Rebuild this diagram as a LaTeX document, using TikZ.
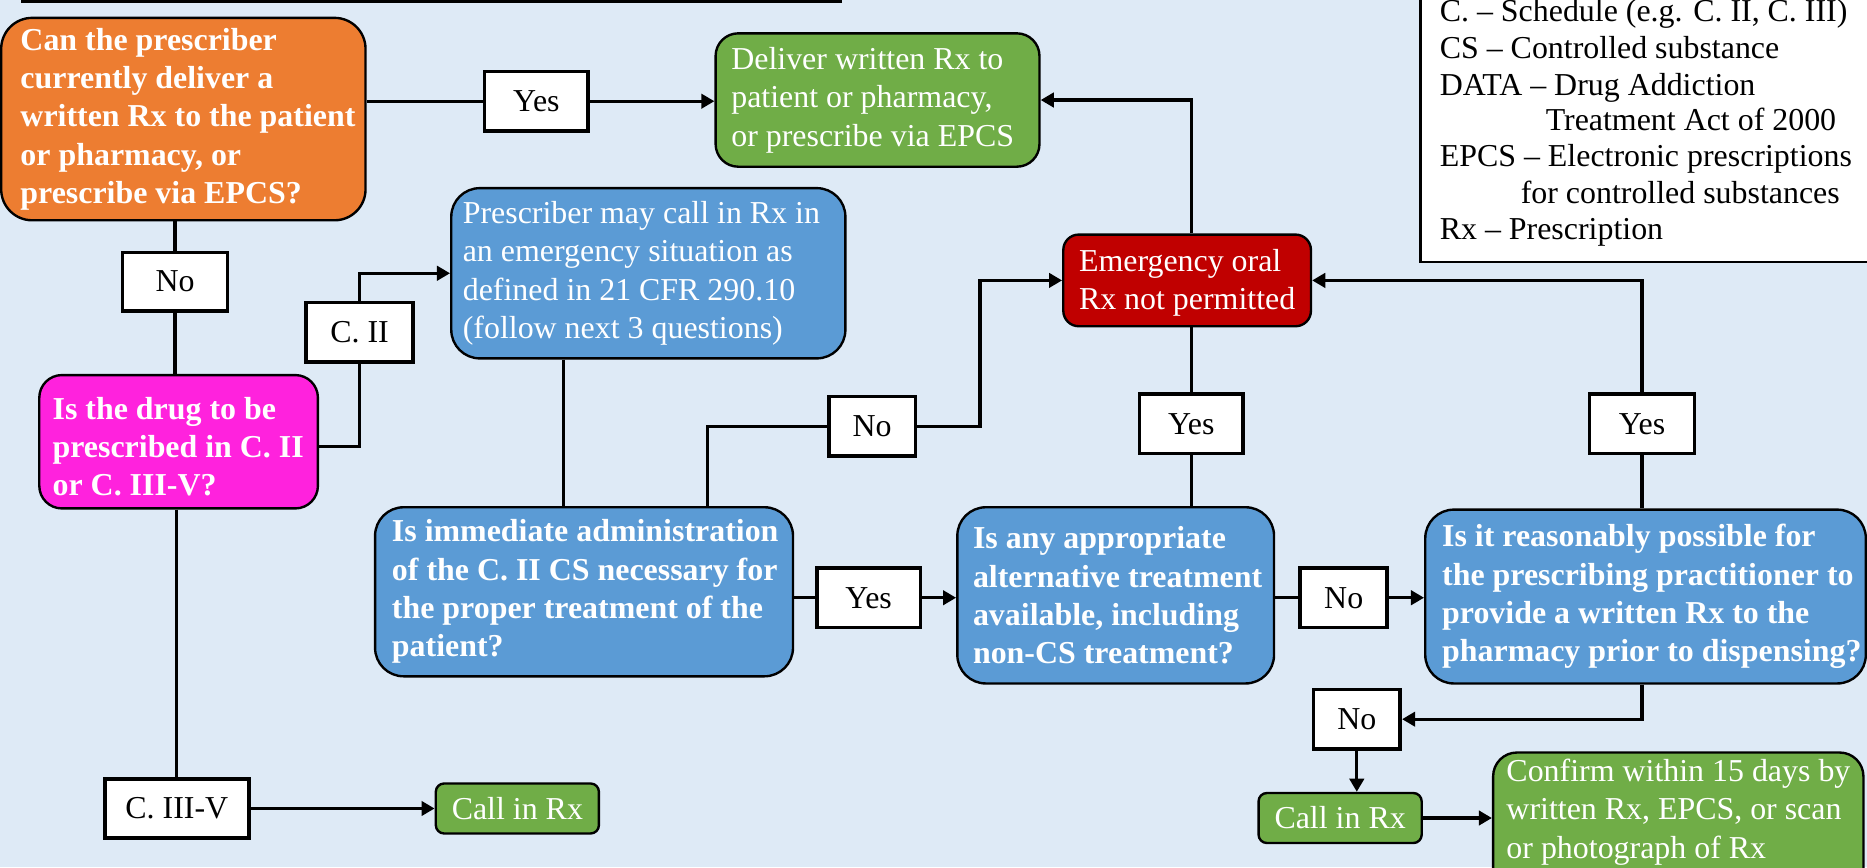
\documentclass[tikz,border=0pt]{standalone}
\usepackage{fontspec}
\setmainfont{Liberation Serif}
\usetikzlibrary{arrows.meta}
\definecolor{bgc}{HTML}{DEEAF6}
\definecolor{orangec}{HTML}{ED7D31}
\definecolor{greenc}{HTML}{70AD47}
\definecolor{bluec}{HTML}{5B9BD5}
\definecolor{redc}{HTML}{C00000}
\definecolor{magc}{HTML}{FF22DD}
\begin{document}
\begin{tikzpicture}[x=1pt,y=-1pt,
  shapebox/.style={draw=black, line width=2pt, inner sep=0pt},
  lab/.style={draw=black, fill=white, line width=3pt, inner sep=0pt, text=black,
    font=\fontsize{26.8}{32.2}\selectfont, minimum height=50pt},
  btxt/.style={inner sep=0pt, anchor=west, align=left, text=white,
    font=\bfseries\fontsize{26.8}{32.2}\selectfont},
  rtxt/.style={inner sep=0pt, anchor=west, align=left, text=white,
    font=\fontsize{26.8}{32.2}\selectfont},
  ltxt/.style={inner sep=0pt, anchor=base west, text=black,
    font=\fontsize{26.8}{30.5}\selectfont},
  conn/.style={line width=2.8pt},
  arr/.style={line width=2.8pt, -{Triangle[length=11pt,width=12pt]}}
]
\useasboundingbox (0,0) rectangle (1568,728.2);
\clip (0,0) rectangle (1568,728.2);
\fill[bgc] (0,0) rectangle (1568,728.2);

% cut-off frame at the top
\draw[line width=3pt] (18,1.2) -- (707,1.2);

% legend
\draw[line width=1.8pt, fill=white] (1193,-10) rectangle (1590,220);
\node[ltxt] (leg1) at (1209,18.2) {C. – Schedule (e.g. C. II, C. III)};
\node[ltxt] (leg2) at (1209,49) {CS – Controlled substance};
\node[ltxt] (leg3) at (1209,79.8) {DATA – Drug Addiction};
\node[ltxt] (leg4) at (1298,109.8) {Treatment Act of 2000};
\node[ltxt] (leg5) at (1209,140) {EPCS – Electronic prescriptions};
\node[ltxt] (leg6) at (1277,170.9) {for controlled substances};
\node[ltxt] (leg7) at (1209,201) {Rx – Prescription};

% boxes
\node[shapebox, fill=orangec, rounded corners=26pt, minimum width=306pt, minimum height=170pt] (q1) at (154,100) {};
\node[btxt] (q1t) at ([xshift=17pt]q1.west) {Can the prescriber\\currently deliver a\\written Rx to the patient\\or pharmacy, or\\prescribe via EPCS?};

\node[shapebox, fill=greenc, rounded corners=19pt, minimum width=272pt, minimum height=112pt] (deliver) at (737,84) {};
\node[rtxt] (delivert) at ([xshift=14pt]deliver.west) {Deliver written Rx to\\patient or pharmacy,\\or prescribe via EPCS};

\node[shapebox, fill=magc, rounded corners=19pt, minimum width=234pt, minimum height=112pt] (q2) at (150,371) {};
\node[btxt] (q2t) at ([xshift=12pt,yshift=-4pt]q2.west) {Is the drug to be\\prescribed in C. II\\or C. III-V?};

\node[shapebox, fill=bluec, rounded corners=24pt, minimum width=331pt, minimum height=143pt] (presc) at (544.5,229.5) {};
\node[rtxt] (presct) at ([xshift=10.5pt]presc.west) {Prescriber may call in Rx in\\an emergency situation as\\defined in 21 CFR 290.10\\(follow next 3 questions)};

\node[shapebox, fill=bluec, rounded corners=24pt, minimum width=351pt, minimum height=142pt] (q3) at (490.5,497) {};
\node[btxt] (q3t) at ([xshift=15pt]q3.west) {Is immediate administration\\of the C. II CS necessary for\\the proper treatment of the\\patient?};

\node[shapebox, fill=bluec, rounded corners=24pt, minimum width=266pt, minimum height=148pt] (q4) at (937,500) {};
\node[btxt] (q4t) at ([xshift=14pt]q4.west) {Is any appropriate\\alternative treatment\\available, including\\non-CS treatment?};

\node[shapebox, fill=bluec, rounded corners=24pt, minimum width=370pt, minimum height=146pt] (q5) at (1382,501) {};
\node[btxt] (q5t) at ([xshift=15pt]q5.west) {Is it reasonably possible for\\the prescribing practitioner to\\provide a written Rx to the\\pharmacy prior to dispensing?};

\node[shapebox, fill=redc, rounded corners=13pt, minimum width=208pt, minimum height=77pt] (red) at (997,235.5) {};
\node[rtxt] (redt) at ([xshift=14pt,yshift=-2pt]red.west) {Emergency oral\\Rx not permitted};

\node[shapebox, fill=greenc, rounded corners=7pt, minimum width=137pt, minimum height=42pt, text=white, font=\fontsize{26.8}{32.2}\selectfont] (call1) at (434.5,679) {Call in Rx};
\node[shapebox, fill=greenc, rounded corners=7pt, minimum width=137pt, minimum height=42pt, text=white, font=\fontsize{26.8}{32.2}\selectfont] (call2) at (1125.5,687) {Call in Rx};

\node[shapebox, fill=greenc, rounded corners=20pt, minimum width=311pt, minimum height=130pt] (confirm) at (1409.5,697) {};
\node[rtxt] (confirmt) at (1265,682) {Confirm within 15 days by\\written Rx, EPCS, or scan\\or photograph of Rx};

% labels
\node[lab, minimum width=87pt] (yes1) at (450.5,85) {Yes};
\node[lab, minimum width=88pt, minimum height=49pt] (no1) at (147,236.5) {No};
\node[lab, minimum width=90pt] (cii) at (302,279) {C. II};
\node[lab, minimum width=121pt] (ciii) at (148.5,679) {C. III-V};
\node[lab, minimum width=73pt] (nomid) at (732.5,358) {No};
\node[lab, minimum width=87pt] (yes3) at (729.5,502) {Yes};
\node[lab, minimum width=87pt] (yesmid) at (1000.5,356) {Yes};
\node[lab, minimum width=88pt] (yesright) at (1379,356) {Yes};
\node[lab, minimum width=73pt] (noq4) at (1128.5,502) {No};
\node[lab, minimum width=73pt] (nobr) at (1139.5,604) {No};

\coordinate (xa) at (473,0);
\coordinate (xb) at (594,0);
\coordinate (xc) at (823,0);

% connectors
\draw[conn] (q1.east |- yes1) -- (yes1.west);
\draw[arr] (yes1.east) -- (deliver.west |- yes1);
\draw[conn] (q1.south -| no1) -- (no1.north);
\draw[conn] (no1.south) -- (q2.north -| no1);
\draw[conn] (q2.south -| ciii) -- (ciii.north);
\draw[arr] (ciii.east) -- (call1.west |- ciii);
\draw[conn] ([yshift=-4pt]q2.east) -| (cii.south);
\draw[arr] (cii.north) |- (presc.west);
\draw[conn] (presc.south -| xa) -- (q3.north -| xa);
\draw[conn] (q3.north -| xb) |- (nomid.west);
\draw[arr] (nomid.east) -- (nomid.east -| xc) |- (red.west);
\draw[conn] (q3.east |- yes3) -- (yes3.west);
\draw[arr] (yes3.east) -- (q4.west |- yes3);
\draw[conn] (q4.north -| yesmid) -- (yesmid.south);
\draw[conn] (yesmid.north) -- (red.south -| yesmid);
\draw[arr] (red.north -| yesmid) |- (deliver.east);
\draw[conn] (q4.east |- noq4) -- (noq4.west);
\draw[arr] (noq4.east) -- (q5.west |- noq4);
\draw[conn] (q5.north -| yesright) -- (yesright.south);
\draw[arr] (yesright.north) |- (red.east);
\draw[arr] (q5.south -| yesright) |- (nobr.east);
\draw[arr] (nobr.south) -- (call2.north -| nobr);
\draw[arr] (call2.east) -- (confirm.west |- call2);
\end{tikzpicture}
\end{document}
